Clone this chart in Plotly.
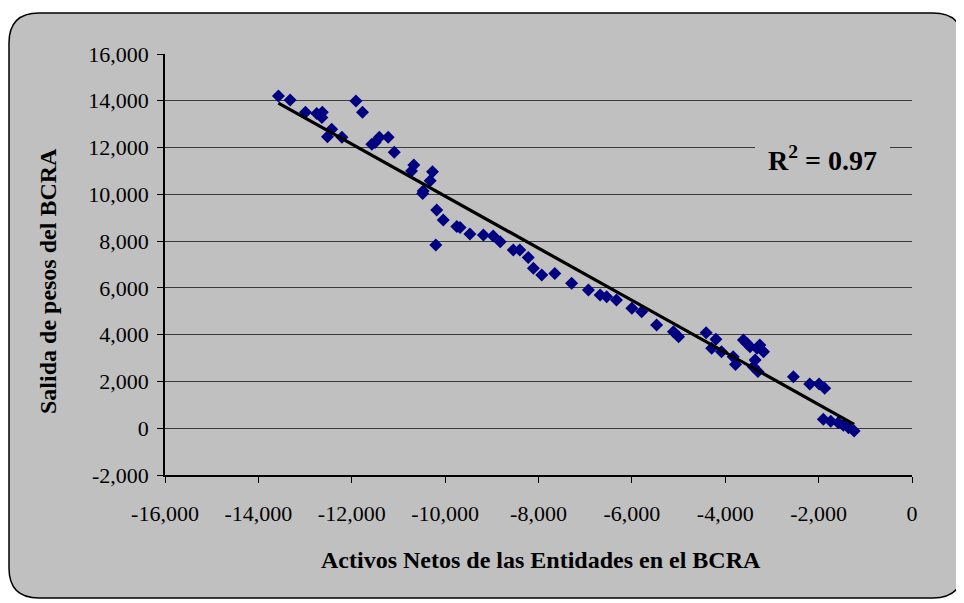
import numpy as np
import plotly.graph_objects as go

# Data
activos_netos = [
    -13570, -13320, -12990, -12750, -12630, -12640, -12430, -12520, -12210,
    -11910, -11770, -11570, -11500, -11410, -11220, -11090, -10670, -10720,
    -10270, -10320, -10470, -10480, -10180, -10040, -9750, -9680, -9470,
    -10200, -9180, -8970, -8820, -8540, -8400, -8220, -8110, -7930, -7650,
    -7290, -6930, -6680, -6540, -6330, -6000, -5790, -5470, -5110, -5000,
    -4410, -4200, -4290, -4080, -3830, -3780, -3610, -3540, -3470, -3260,
    -3320, -3180, -3360, -3400, -3300, -2540, -2190, -1990, -1870, -1900,
    -1740, -1580, -1470, -1360, -1240,
]
salida_pesos = [
    14200, 14030, 13510, 13460, 13510, 13280, 12780, 12460, 12440,
    13990, 13510, 12140, 12220, 12440, 12440, 11800, 11250, 11000,
    10970, 10580, 10140, 10040, 9330, 8900, 8620, 8580, 8300,
    7830, 8260, 8220, 7970, 7620, 7620, 7300, 6840, 6550, 6620,
    6200, 5910, 5700, 5620, 5480, 5130, 4980, 4410, 4130, 3910,
    4080, 3800, 3420, 3270, 3060, 2720, 3770, 3630, 3480, 3560,
    3420, 3270, 2920, 2630, 2420, 2200, 1890, 1890, 1710, 380,
    300, 230, 130, 20, -120,
]
x_ticks = [-16000, -14000, -12000, -10000, -8000, -6000, -4000, -2000, 0]
y_ticks = [-2000, 0, 2000, 4000, 6000, 8000, 10000, 12000, 14000, 16000]
x_title = "Activos Netos de las Entidades en el BCRA"
y_title = "Salida de pesos del BCRA"
r2_text = "R<sup>2</sup> = 0.97"

x = np.array(activos_netos, dtype=float)
y = np.array(salida_pesos, dtype=float)
slope, intercept = np.polyfit(x, y, 1)
x_line = np.array([x.min(), x.max()])
y_line = slope * x_line + intercept

# page has an 8px body margin; figure is sized to fit the 964x603 window
OFF = 8
W, H = 964 - OFF, 603 - OFF
L, R, T, B = 157, 52, 46, 128
pw, ph = W - L - R, H - T - B


def fx(page_px):
    return (page_px - OFF - L) / pw


def fy(page_py):
    return (H - B - (page_py - OFF)) / ph


# rounded outer frame (page coordinates)
lx, rx_, ty, by = fx(9), fx(963), fy(13), fy(598)
cx, cy = 30 / pw, 30 / ph
path = (f"M {lx+cx},{ty} L {rx_-cx},{ty} Q {rx_},{ty} {rx_},{ty-cy} "
        f"L {rx_},{by+cy} Q {rx_},{by} {rx_-cx},{by} "
        f"L {lx+cx},{by} Q {lx},{by} {lx},{by+cy} "
        f"L {lx},{ty-cy} Q {lx},{ty} {lx+cx},{ty} Z")

font_family = "Liberation Serif, Times New Roman, serif"

fig = go.Figure()
fig.add_trace(go.Scatter(
    x=x, y=y, mode="markers",
    marker=dict(symbol="diamond", size=10, color="#000080"),
    showlegend=False, hoverinfo="x+y",
))
fig.add_trace(go.Scatter(
    x=x_line, y=y_line, mode="lines",
    line=dict(color="black", width=3.2),
    showlegend=False, hoverinfo="skip",
))

fig.update_layout(
    width=W, height=H,
    margin=dict(l=L, r=R, t=T, b=B, pad=0),
    paper_bgcolor="white",
    plot_bgcolor="white",
    font=dict(family=font_family, size=22, color="black"),
    shapes=[
        dict(type="path", path=path, xref="paper", yref="paper",
             fillcolor="#C0C0C0", line=dict(color="black", width=1.5),
             layer="below"),
        dict(type="rect", xref="paper", yref="paper",
             x0=fx(755), x1=fx(890), y0=fy(186), y1=fy(128),
             fillcolor="#C0C0C0", line=dict(width=0), layer="above"),
    ],
    annotations=[
        dict(x=fx(822), y=fy(158), xref="paper", yref="paper",
             xanchor="center", yanchor="middle",
             text=f"<b>{r2_text}</b>", showarrow=False,
             font=dict(family=font_family, size=28, color="black")),
        dict(x=fx(541), y=fy(560), xref="paper", yref="paper",
             xanchor="center", yanchor="middle",
             text=f"<b>{x_title}</b>", showarrow=False,
             font=dict(family=font_family, size=24, color="black")),
        dict(x=fx(48), y=fy(281), xref="paper", yref="paper",
             xanchor="center", yanchor="middle", textangle=-90,
             text=f"<b>{y_title}</b>", showarrow=False,
             font=dict(family=font_family, size=24, color="black")),
    ],
)
fig.update_xaxes(
    range=[-16000, 0], tickvals=x_ticks,
    ticktext=[f"{v:,}" for v in x_ticks],
    ticks="outside", ticklen=6, tickcolor="black",
    showline=True, linecolor="black", linewidth=1.5, mirror=False,
    showgrid=False, zeroline=False,
    ticklabelstandoff=12,
)
fig.update_yaxes(
    range=[-2000, 16000], tickvals=y_ticks,
    ticktext=[f"{v:,}" for v in y_ticks],
    ticks="outside", ticklen=6, tickcolor="black",
    showline=True, linecolor="black", linewidth=1.5,
    showgrid=True, gridcolor="#3a3a3a", gridwidth=1, zeroline=False,
    ticklabelstandoff=4,
)

fig.write_html("out.html")
